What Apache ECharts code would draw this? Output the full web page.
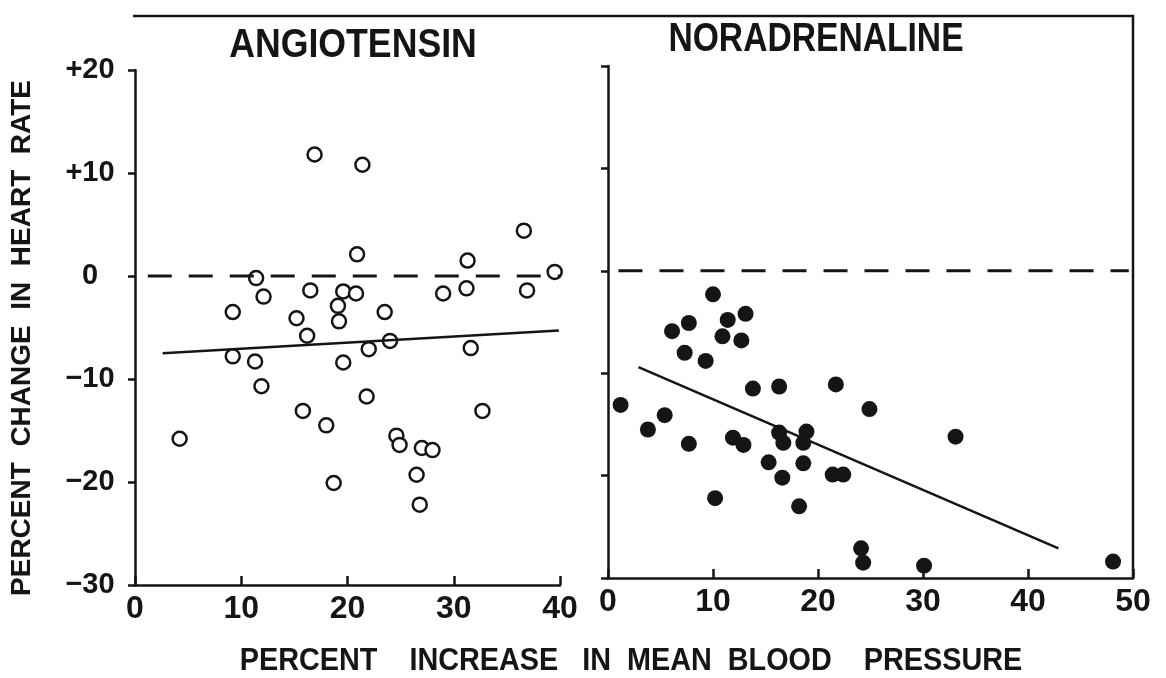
<!DOCTYPE html>
<html><head><meta charset="utf-8">
<script src="https://cdn.jsdelivr.net/npm/echarts@6/dist/echarts.min.js"></script>
<style>html,body{margin:0;padding:0;background:#fff}#c{width:1166px;height:678px}</style>
</head><body><div id="c"></div>
<script>
const panelTitles = ['ANGIOTENSIN', 'NORADRENALINE'];
const yAxisTitle = 'PERCENT  CHANGE  IN  HEART  RATE';
const xAxisTitle = 'PERCENT    INCREASE   IN  MEAN  BLOOD    PRESSURE';
const yTickLabels = { '-30': '\u221230', '-20': '\u221220', '-10': '\u221210', '0': '0', '10': '+10', '20': '+20' };

const angiotensinPoints = [
  [4.2,-15.8],[9.2,-3.5],[9.2,-7.8],[11.4,-0.2],[11.3,-8.3],[12.1,-2.0],[11.9,-10.7],
  [15.2,-4.1],[16.2,-5.8],[15.8,-13.1],[16.5,-1.4],[16.9,11.8],[18.0,-14.5],[18.7,-20.1],
  [19.2,-4.4],[19.1,-2.9],[19.6,-1.5],[19.6,-8.4],[20.8,-1.7],[20.9,2.1],[21.4,10.8],
  [21.8,-11.7],[22.0,-7.1],[23.5,-3.5],[24.0,-6.3],[24.6,-15.5],[24.9,-16.4],[26.5,-19.3],
  [26.8,-22.2],[27.0,-16.7],[28.0,-16.9],[29.0,-1.7],[31.2,-1.2],[31.3,1.5],[31.6,-7.0],
  [32.7,-13.1],[36.6,4.4],[36.9,-1.4],[39.5,0.4]
];
const noradrenalinePoints = [
  [10.0,-2.3],[13.1,-4.2],[11.4,-4.8],[7.7,-5.1],[6.1,-5.9],[10.9,-6.4],[12.7,-6.8],
  [7.3,-8.0],[9.3,-8.8],[13.8,-11.5],[16.3,-11.3],[21.7,-11.1],[1.2,-13.1],[5.4,-14.1],
  [3.8,-15.5],[7.7,-16.9],[11.9,-16.3],[12.9,-17.0],[16.3,-15.8],[16.7,-16.8],[18.9,-15.7],
  [18.6,-16.8],[15.3,-18.7],[18.6,-18.8],[16.6,-20.2],[21.4,-19.9],[22.4,-19.9],[10.2,-22.2],
  [18.2,-23.0],[24.9,-13.5],[33.1,-16.2],[24.1,-27.1],[24.3,-28.5],[30.1,-28.8],[48.1,-28.4]
];
const angiotensinFit = [[2.6,-7.5],[39.9,-5.3]];
const noradrenalineFit = [[2.9,-9.4],[42.9,-27.1]];
const angiotensinZero = [[1.2,0],[40,0]];
const noradrenalineZero = [[1.0,0],[49.6,0]];

const FONT = "'Liberation Sans', Arial, sans-serif";
const INK = '#151515';

const chart = echarts.init(document.getElementById('c'), null, { renderer: 'canvas' });

function xAxisCfg(gi, max) {
  return {
    type: 'value', gridIndex: gi, min: 0, max: max, interval: 10,
    splitLine: { show: false },
    axisLine: { show: true, onZero: false, lineStyle: { color: INK, width: 2.5 } },
    axisTick: { show: true, inside: true, length: 9, lineStyle: { color: INK, width: 2.5 } },
    axisLabel: { color: INK, fontFamily: FONT, fontWeight: 'bold', fontSize: 32, margin: 8 }
  };
}
function yAxisCfg(gi, showLabels) {
  return {
    type: 'value', gridIndex: gi, min: -30, max: 20, interval: 10,
    splitLine: { show: false },
    axisLine: { show: true, onZero: false, lineStyle: { color: INK, width: 2.5 } },
    axisTick: { show: true, inside: false, length: 7, lineStyle: { color: INK, width: 2.5 } },
    axisLabel: {
      show: showLabels, color: INK, fontFamily: FONT, fontWeight: 'bold', fontSize: 29,
      align: 'center', margin: 45,
      formatter: v => yTickLabels[String(v)]
    }
  };
}

function label(text, x, y, size, sx, rot) {
  return {
    type: 'text', x: x, y: y, scaleX: sx, rotation: rot || 0, z: 20,
    style: { text: text, fill: INK, fontFamily: FONT, fontWeight: 'bold', fontSize: size,
             align: 'center', verticalAlign: 'middle' }
  };
}

const option = {
  backgroundColor: '#fff',
  animation: false,
  grid: [
    { left: 135, width: 425, top: 70, height: 515 },
    { left: 608, width: 525, top: 66, height: 512 }
  ],
  xAxis: [xAxisCfg(0, 40), xAxisCfg(1, 50)],
  yAxis: [yAxisCfg(0, true), yAxisCfg(1, false)],
  graphic: [
    { type: 'polyline', z: 10, shape: { points: [[133, 16], [1133, 16], [1133, 578]] },
      style: { stroke: INK, lineWidth: 2.5, fill: null } },
    label(panelTitles[0], 353, 46, 41, 0.87),
    label(panelTitles[1], 816, 40, 41, 0.82),
    label(xAxisTitle, 631, 661, 32, 0.9),
    label(yAxisTitle, 22, 338, 28, 1, Math.PI / 2)
  ],
  series: [
    { type: 'line', xAxisIndex: 0, yAxisIndex: 0, data: angiotensinZero, symbol: 'none',
      lineStyle: { color: INK, width: 3, type: [24, 17] } },
    { type: 'line', xAxisIndex: 0, yAxisIndex: 0, data: angiotensinFit, symbol: 'none',
      lineStyle: { color: INK, width: 2.5 } },
    { type: 'scatter', xAxisIndex: 0, yAxisIndex: 0, data: angiotensinPoints, symbol: 'circle', symbolSize: 14,
      itemStyle: { color: '#fff', borderColor: INK, borderWidth: 2.5, opacity: 1 } },
    { type: 'line', xAxisIndex: 1, yAxisIndex: 1, data: noradrenalineZero, symbol: 'none',
      lineStyle: { color: INK, width: 3, type: [24, 17] } },
    { type: 'line', xAxisIndex: 1, yAxisIndex: 1, data: noradrenalineFit, symbol: 'none',
      lineStyle: { color: INK, width: 2.5 } },
    { type: 'scatter', xAxisIndex: 1, yAxisIndex: 1, data: noradrenalinePoints, symbol: 'circle', symbolSize: 16,
      itemStyle: { color: INK, opacity: 1 } }
  ]
};
chart.setOption(option);
</script>
</body></html>
